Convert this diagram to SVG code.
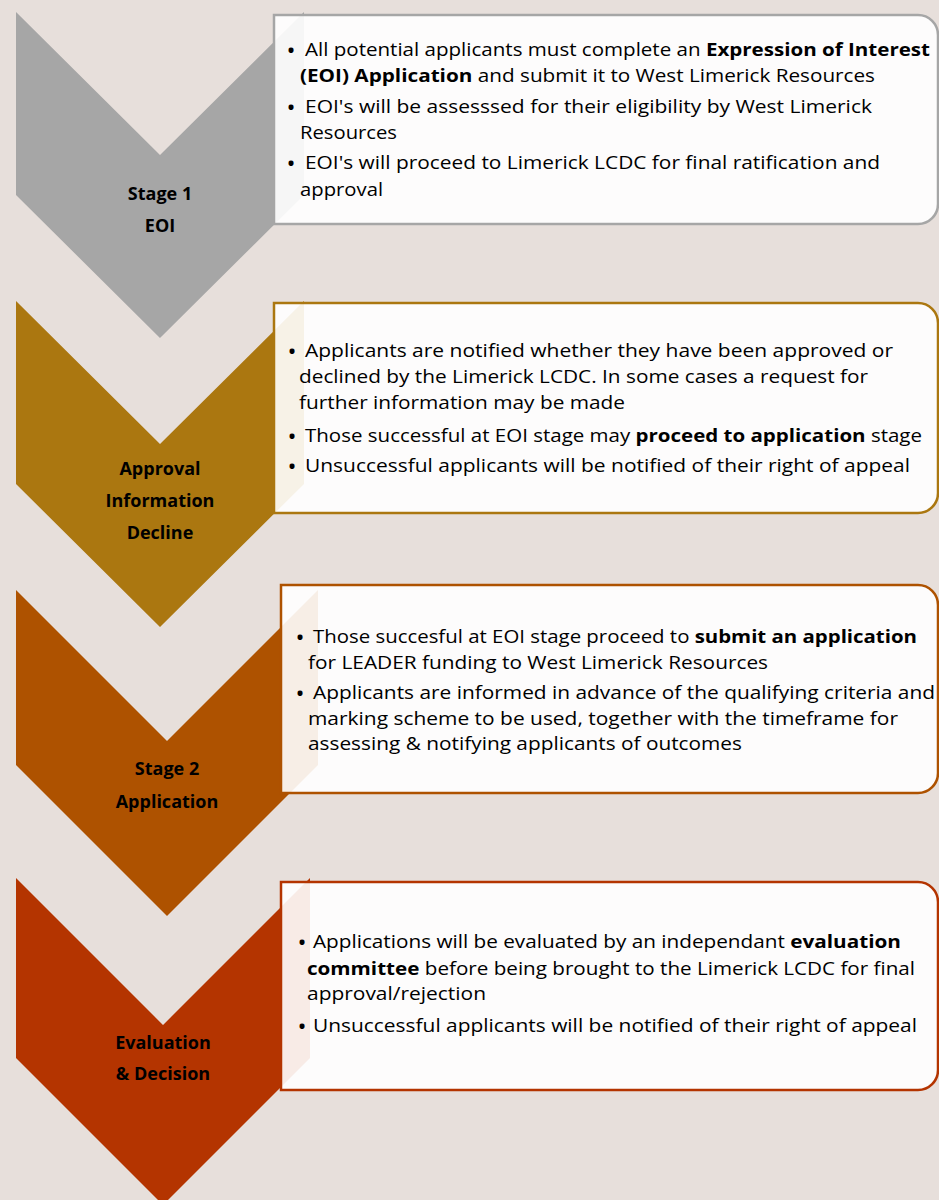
<svg xmlns="http://www.w3.org/2000/svg" width="939" height="1200" viewBox="0 0 939 1200">
  <style>
    .bg { fill: #e7dfdb; }
    .box { fill: #ffffff; fill-opacity: 0.9; stroke-width: 2.5; }
    .lbl { font-family: "Open Sans", "Liberation Sans", sans-serif; font-weight: 700; font-size: 18px; fill: #000; text-anchor: middle; }
    .txt { font-family: "Open Sans", "Liberation Sans", sans-serif; font-size: 18px; fill: #000; }
    .dot { font-family: "Open Sans", "Liberation Sans", sans-serif; font-size: 24px; fill: #000; text-anchor: middle; }
    .b { font-weight: 700; }
  </style>
  <rect class="bg" x="0" y="0" width="939" height="1200"/>

  <g id="connectors"></g>

  <!-- Stage 1: EOI -->
  <g id="stage1">
    <polygon fill="#a6a6a6" points="16,12 160,155 304,12 304,195 160,338 16,195"/>
    <text class="lbl" x="160" y="200">Stage 1</text>
    <text class="lbl" x="160" y="232">EOI</text>
  </g>
  <g id="stage1-details">
    <path class="box" stroke="#a6a6a6" d="M274,15 H918 A20,20 0 0 1 938,35 V204 A20,20 0 0 1 918,224 H274 Z"/>
    <text class="dot" x="291" y="59">•</text>
    <text class="txt" x="305" y="56" textLength="625" lengthAdjust="spacingAndGlyphs">All potential applicants must complete an <tspan class="b">Expression of Interest</tspan></text>
    <text class="txt" x="300" y="82" textLength="575" lengthAdjust="spacingAndGlyphs"><tspan class="b">(EOI) Application</tspan> and submit it to West Limerick Resources</text>
    <text class="dot" x="291" y="116">•</text>
    <text class="txt" x="305" y="113" textLength="567" lengthAdjust="spacingAndGlyphs">EOI's will be assesssed for their eligibility by West Limerick</text>
    <text class="txt" x="300" y="139" textLength="97" lengthAdjust="spacingAndGlyphs">Resources</text>
    <text class="dot" x="291" y="172">•</text>
    <text class="txt" x="305" y="169" textLength="575" lengthAdjust="spacingAndGlyphs">EOI's will proceed to Limerick LCDC for final ratification and</text>
    <text class="txt" x="300" y="196" textLength="83" lengthAdjust="spacingAndGlyphs">approval</text>
  </g>

  <!-- Approval / Information / Decline -->
  <g id="stage-approval">
    <polygon fill="#ab7710" points="16,301 160,444 304,301 304,484 160,627 16,484"/>
    <text class="lbl" x="160" y="475">Approval</text>
    <text class="lbl" x="160" y="507">Information</text>
    <text class="lbl" x="160" y="539">Decline</text>
  </g>
  <g id="stage-approval-details">
    <path class="box" stroke="#ab7710" d="M274,303 H918 A20,20 0 0 1 938,323 V493 A20,20 0 0 1 918,513 H274 Z"/>
    <text class="dot" x="292" y="360">•</text>
    <text class="txt" x="305" y="357" textLength="588" lengthAdjust="spacingAndGlyphs">Applicants are notified whether they have been approved or</text>
    <text class="txt" x="299" y="383" textLength="569" lengthAdjust="spacingAndGlyphs">declined by the Limerick LCDC. In some cases a request for</text>
    <text class="txt" x="299" y="409" textLength="326" lengthAdjust="spacingAndGlyphs">further information may be made</text>
    <text class="dot" x="292" y="445">•</text>
    <text class="txt" x="305" y="442" textLength="617" lengthAdjust="spacingAndGlyphs">Those successful at EOI stage may <tspan class="b">proceed to application</tspan> stage</text>
    <text class="dot" x="292" y="475">•</text>
    <text class="txt" x="305" y="472" textLength="605" lengthAdjust="spacingAndGlyphs">Unsuccessful applicants will be notified of their right of appeal</text>
  </g>

  <!-- Stage 2: Application -->
  <g id="stage2">
    <polygon fill="#ae5200" points="16,590 167,741 318,590 318,765 167,916 16,765"/>
    <text class="lbl" x="167" y="775">Stage 2</text>
    <text class="lbl" x="167" y="808">Application</text>
  </g>
  <g id="stage2-details">
    <path class="box" stroke="#ae5200" d="M281,585 H918 A20,20 0 0 1 938,605 V773 A20,20 0 0 1 918,793 H281 Z"/>
    <text class="dot" x="300" y="646">•</text>
    <text class="txt" x="313" y="643" textLength="604" lengthAdjust="spacingAndGlyphs">Those succesful at EOI stage proceed to <tspan class="b">submit an application</tspan></text>
    <text class="txt" x="308" y="669" textLength="460" lengthAdjust="spacingAndGlyphs">for LEADER funding to West Limerick Resources</text>
    <text class="dot" x="300" y="702">•</text>
    <text class="txt" x="313" y="699" textLength="622" lengthAdjust="spacingAndGlyphs">Applicants are informed in advance of the qualifying criteria and</text>
    <text class="txt" x="308" y="725" textLength="590" lengthAdjust="spacingAndGlyphs">marking scheme to be used, together with the timeframe for</text>
    <text class="txt" x="308" y="750" textLength="434" lengthAdjust="spacingAndGlyphs">assessing &amp; notifying applicants of outcomes</text>
  </g>

  <!-- Evaluation & Decision -->
  <g id="stage-evaluation">
    <polygon fill="#b43400" points="16,878 163,1025 310,878 310,1058 163,1205 16,1058"/>
    <text class="lbl" x="163" y="1049">Evaluation</text>
    <text class="lbl" x="163" y="1080">&amp; Decision</text>
  </g>
  <g id="stage-evaluation-details">
    <path class="box" stroke="#b43400" d="M281,882 H918 A20,20 0 0 1 938,902 V1070 A20,20 0 0 1 918,1090 H281 Z"/>
    <text class="dot" x="302" y="951">•</text>
    <text class="txt" x="313" y="948" textLength="588" lengthAdjust="spacingAndGlyphs">Applications will be evaluated by an independant <tspan class="b">evaluation</tspan></text>
    <text class="txt" x="307" y="975" textLength="608" lengthAdjust="spacingAndGlyphs"><tspan class="b">committee</tspan> before being brought to the Limerick LCDC for final</text>
    <text class="txt" x="307" y="1000" textLength="179" lengthAdjust="spacingAndGlyphs">approval/rejection</text>
    <text class="dot" x="302" y="1035">•</text>
    <text class="txt" x="313" y="1032" textLength="604" lengthAdjust="spacingAndGlyphs">Unsuccessful applicants will be notified of their right of appeal</text>
  </g>
</svg>
